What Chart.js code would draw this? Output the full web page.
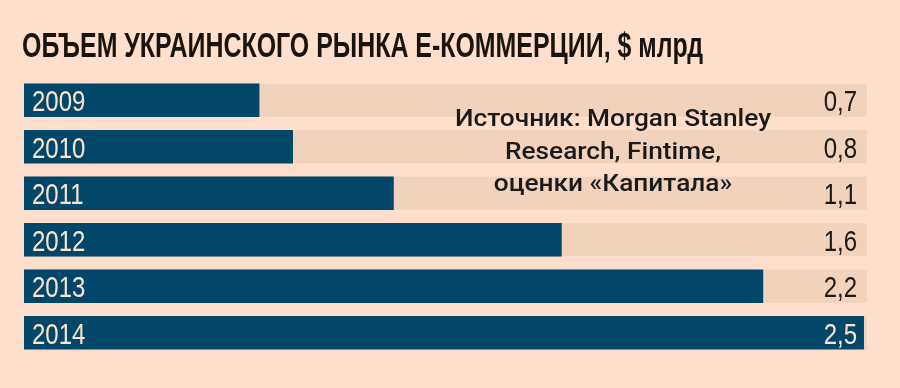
<!DOCTYPE html>
<html>
<head>
<meta charset="utf-8">
<script src="https://cdn.jsdelivr.net/npm/chart.js@4"></script>
<style>
  html, body { margin: 0; padding: 0; background: #fddfcb; }
  #wrap { width: 900px; height: 388px; position: relative; }
</style>
</head>
<body>
<div id="wrap"><canvas id="myChart" width="900" height="388"></canvas></div>
<script>
const years = ['2009', '2010', '2011', '2012', '2013', '2014'];
const volume = [0.7, 0.8, 1.1, 1.6, 2.2, 2.5];
const titleText = 'ОБЪЕМ УКРАИНСКОГО РЫНКА Е-КОММЕРЦИИ, $ млрд';
const sourceLines = ['Источник: Morgan Stanley', 'Research, Fintime,', 'оценки «Капитала»'];

const sans = '"Liberation Sans", Arial, sans-serif';

// text squeezed horizontally (no condensed font installed)
function squeezed(c, txt, x, y, sx, align) {
  const w = c.measureText(txt).width * sx;
  let left = x;
  if (align === 'right') left = x - w;
  if (align === 'center') left = x - w / 2;
  c.save();
  c.textAlign = 'left';
  c.translate(left, y);
  c.scale(sx, 1);
  c.fillText(txt, 0, 0);
  c.restore();
}

// light track behind each bar
const trackPlugin = {
  id: 'track',
  beforeDatasetsDraw(chart) {
    const c = chart.ctx, area = chart.chartArea;
    c.save();
    c.fillStyle = '#f0d2bd';
    chart.getDatasetMeta(0).data.forEach(function (bar) {
      c.fillRect(area.left, bar.y - bar.height / 2, area.right - area.left, bar.height);
    });
    c.restore();
  }
};

const labelPlugin = {
  id: 'labels',
  afterDatasetsDraw(chart) {
    const c = chart.ctx, area = chart.chartArea;
    c.save();
    c.textBaseline = 'alphabetic';
    c.font = '30px ' + sans;
    chart.getDatasetMeta(0).data.forEach(function (bar, i) {
      c.fillStyle = '#fde3cb';
      squeezed(c, years[i], area.left + 8, bar.y + 11, 0.8, 'left');
      const txt = volume[i].toFixed(1).replace('.', ',');
      c.fillStyle = bar.x > area.right - 40 ? '#fde3cb' : '#1a1a1a';
      squeezed(c, txt, area.right - 10, bar.y + 11, 0.8, 'right');
    });
    // title
    c.fillStyle = '#1a1410';
    c.font = 'bold 35px ' + sans;
    squeezed(c, titleText, 22, 57, 681 / c.measureText(titleText).width, 'left');
    // source note
    c.fillStyle = '#1a1a1a';
    c.font = '500 24px Roboto, "Noto Sans", sans-serif';
    const sx = 316 / c.measureText(sourceLines[0]).width;
    sourceLines.forEach(function (line, i) {
      squeezed(c, line, 613, 126 + i * 32.5, sx, 'center');
    });
    c.restore();
  }
};

new Chart(document.getElementById('myChart').getContext('2d'), {
  type: 'bar',
  data: {
    labels: years,
    datasets: [{
      data: volume,
      backgroundColor: '#02476a',
      borderWidth: 0,
      barThickness: 33
    }]
  },
  options: {
    indexAxis: 'y',
    responsive: false,
    animation: false,
    layout: { padding: { left: 24, right: 33, top: 77, bottom: 32 } },
    scales: {
      x: { display: false, min: 0, max: 2.51 },
      y: { display: false }
    },
    plugins: {
      legend: { display: false },
      tooltip: { enabled: false }
    }
  },
  plugins: [trackPlugin, labelPlugin]
});
</script>
</body>
</html>
